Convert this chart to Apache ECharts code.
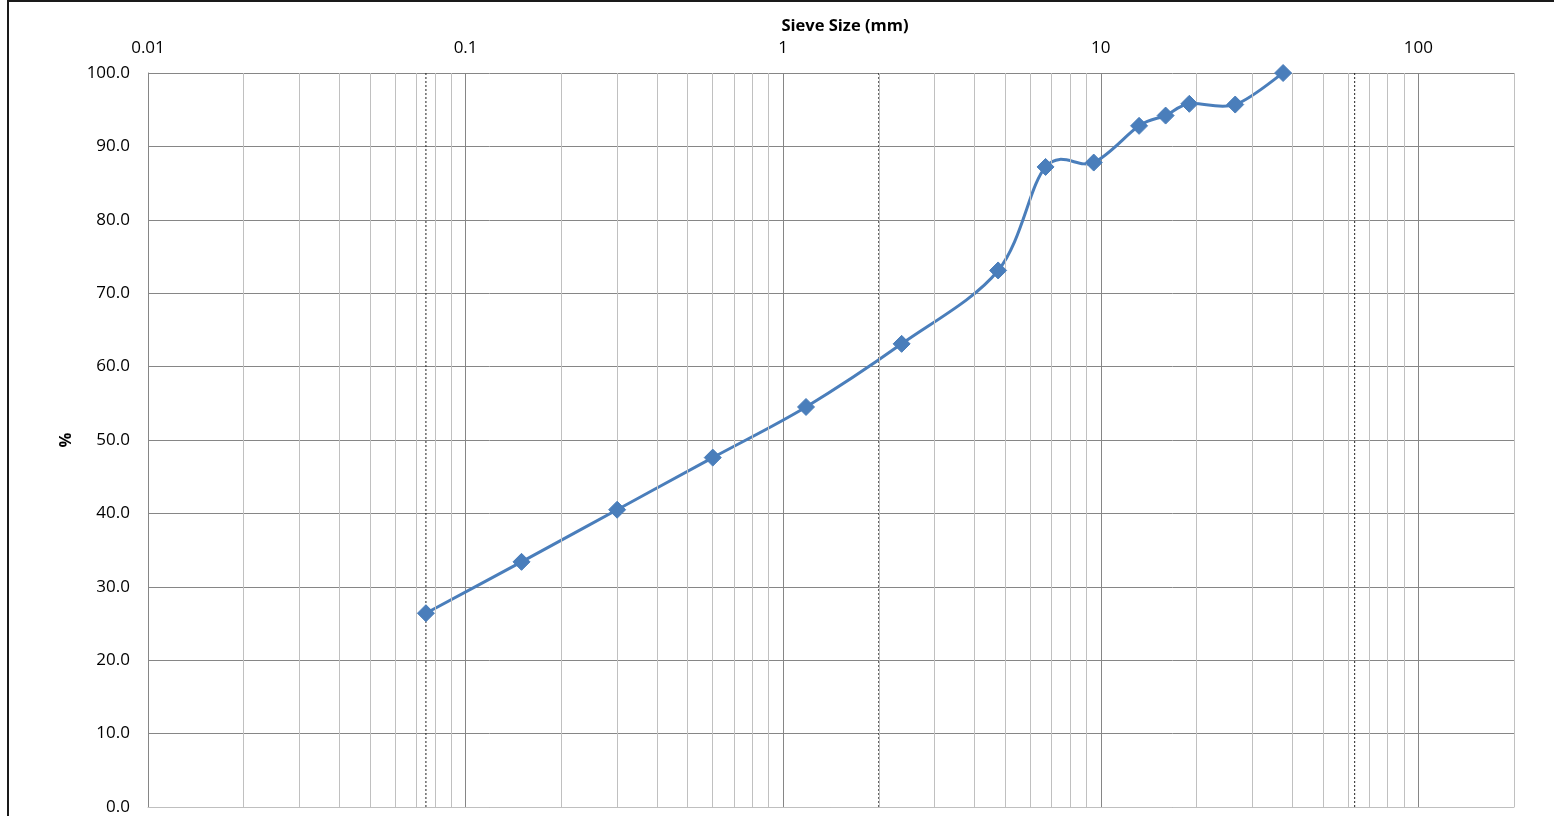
<!DOCTYPE html>
<html>
<head>
<meta charset="utf-8">
<script src="https://cdn.jsdelivr.net/npm/echarts@6/dist/echarts.min.js"></script>
<style>
html,body{margin:0;padding:0;background:#fff;}
#chart{width:1554px;height:816px;}
</style>
</head>
<body>
<div id="chart"></div>
<script>
// Sieve sizes (mm) and percent passing
const sieveSizes = [0.075, 0.15, 0.3, 0.6, 1.18, 2.36, 4.75, 6.7, 9.5, 13.2, 16, 19, 26.5, 37.5];
const percentPassing = [26.4, 33.4, 40.5, 47.6, 54.5, 63.1, 73.1, 87.2, 87.8, 92.8, 94.2, 95.8, 95.7, 100.0];
// Tick labels shown on the log axis
const xTickLabels = [0.01, 0.1, 1, 10, 100];
// Minor gridline positions (2..9 of each decade)
const minorGrid = [
  0.02,0.03,0.04,0.05,0.06,0.07,0.08,0.09,
  0.2,0.3,0.4,0.5,0.6,0.7,0.8,0.9,
  2,3,4,5,6,7,8,9,
  20,30,40,50,60,70,80,90,
  200
];
// Boundary reference lines (mm)
const boundaries = [0.075, 2, 63];
const yRange = [0, 100];

const font = 'Open Sans';
const lineColor = '#4a7ebb';
const chart = echarts.init(document.getElementById('chart'), null, {renderer: 'canvas'});

const points = sieveSizes.map((s, i) => [s, percentPassing[i]]);

const boundarySeries = boundaries.map(b => ({
  name: 'boundary ' + b,
  type: 'line',
  data: [[b, yRange[0]], [b, yRange[1]]],
  symbol: 'none',
  silent: true,
  z: 2,
  lineStyle: {color: '#222', width: 1, type: [2, 2]}
}));

// Smoothed curve (Catmull-Rom style bezier in pixel space) through the data points
function renderSegment(params, api) {
  const i = params.dataIndex;
  const n = points.length;
  if (i >= n - 1) return null;
  const c = j => api.coord(points[Math.max(0, Math.min(n - 1, j))]);
  const p0 = c(i - 1), p1 = c(i), p2 = c(i + 1), p3 = c(i + 2);
  const k = 1 / 6;
  const cp1 = [p1[0] + (p2[0] - p0[0]) * k, p1[1] + (p2[1] - p0[1]) * k];
  const cp2 = [p2[0] - (p3[0] - p1[0]) * k, p2[1] - (p3[1] - p1[1]) * k];
  return {
    type: 'bezierCurve',
    shape: {x1: p1[0], y1: p1[1], x2: p2[0], y2: p2[1], cpx1: cp1[0], cpy1: cp1[1], cpx2: cp2[0], cpy2: cp2[1]},
    style: {stroke: lineColor, lineWidth: 3, fill: null, lineCap: 'round'},
    silent: true
  };
}

chart.setOption({
  animation: false,
  backgroundColor: '#fff',
  textStyle: {fontFamily: font},
  graphic: [{
    type: 'rect',
    shape: {x: 8, y: 1, width: 1700, height: 1000},
    style: {fill: 'none', stroke: '#1a1a1a', lineWidth: 2},
    silent: true, z: 0
  }],
  grid: {left: 148, right: 40, top: 73, bottom: 9, containLabel: false},
  xAxis: {
    type: 'log',
    logBase: 10,
    min: 0.01,
    max: 200,
    position: 'top',
    name: 'Sieve Size (mm)',
    nameLocation: 'middle',
    nameGap: 37,
    nameTextStyle: {fontFamily: font, fontSize: 16.5, fontWeight: 'bold', color: '#000', padding: [0, 0, 0, 28]},
    axisLine: {show: true, lineStyle: {color: '#bfbfbf', width: 1}},
    axisTick: {show: false},
    axisLabel: {
      show: true, margin: 16, color: '#000', fontFamily: font, fontSize: 17,
      formatter: function (v) {
        for (const t of xTickLabels) { if (Math.abs(v - t) / t < 1e-6) return String(t); }
        return '';
      }
    },
    splitLine: {show: true, lineStyle: {color: '#868686', width: 1}}
  },
  yAxis: {
    type: 'value',
    min: yRange[0], max: yRange[1], interval: 10,
    name: '%',
    nameLocation: 'middle',
    nameGap: 73,
    nameRotate: 90,
    nameTextStyle: {fontFamily: font, fontSize: 16.5, fontWeight: 'bold', color: '#000'},
    axisLine: {show: true, lineStyle: {color: '#868686', width: 1}},
    axisTick: {show: false},
    axisLabel: {
      margin: 18, color: '#000', fontFamily: font, fontSize: 17,
      formatter: function (v) { return v.toFixed(1); }
    },
    splitLine: {show: true, lineStyle: {color: '#868686', width: 1}}
  },
  series: [
    {
      name: 'minor',
      type: 'line',
      data: [],
      silent: true,
      z: 1,
      markLine: {
        silent: true,
        symbol: ['none', 'none'],
        label: {show: false},
        animation: false,
        lineStyle: {color: '#c0c0c0', width: 1, type: 'solid'},
        data: minorGrid.map(v => ({xAxis: v}))
      }
    },
    ...boundarySeries,
    {
      name: 'curve',
      type: 'custom',
      z: 4,
      silent: true,
      clip: true,
      data: points,
      renderItem: renderSegment
    },
    {
      name: 'Passing',
      type: 'scatter',
      z: 5,
      data: points,
      symbol: 'diamond',
      symbolSize: 17,
      itemStyle: {color: lineColor, borderColor: lineColor, borderWidth: 1, opacity: 1}
    }
  ]
});
</script>
</body>
</html>
